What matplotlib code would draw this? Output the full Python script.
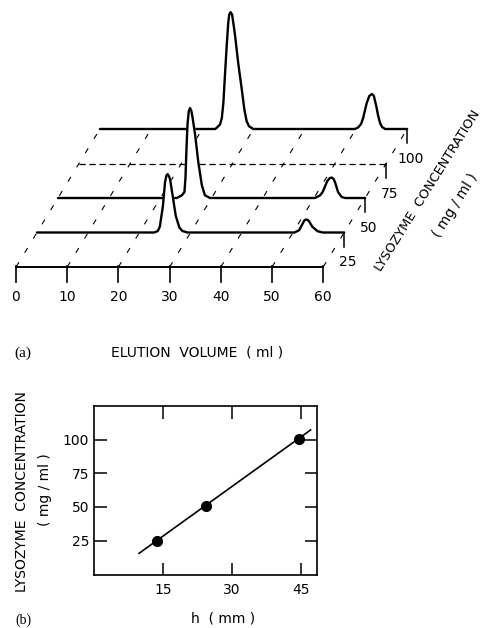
import matplotlib
matplotlib.use("Agg")
import matplotlib.pyplot as plt

# (a) 洗脱曲线，从图上读出的点 (elution volume ml, signal height)
vol_25 = [0, 22.9, 23.6, 24.0, 24.6, 25.0, 25.25, 25.5, 25.8, 26.0, 26.5, 27.1, 27.8,
          28.4, 29.4,
          50.3, 51.2, 51.9, 52.2, 52.5, 52.9, 53.2, 53.8, 54.8, 55.8, 60]
sig_25 = [0, 0, 1.5, 6, 26.7, 50, 56.5, 58.4, 56, 53, 36.7, 16.7, 5,
          1.5, 0,
          0, 2.3, 9, 12, 13, 12.5, 10.6, 5.6, 1.3, 0, 0]

vol_50 = [0, 23.2, 24.2, 24.7, 24.9, 25.1, 25.3, 25.55, 25.8, 26.05, 26.3, 26.8, 27.4,
          28.1, 28.7, 29.7,
          50.2, 51.2, 51.7, 52.1, 52.6, 53.1, 53.5, 53.8, 54.1, 54.7, 55.4, 56.1, 60]
sig_50 = [0, 0, 2.7, 6, 20, 50, 74, 87, 90, 87, 80, 62.7, 36,
          12.7, 2.7, 0,
          0, 2.7, 6, 11, 17, 20, 20.4, 19, 16, 6, 1, 0, 0]

vol_100 = [0, 22.5, 22.8, 23.45, 23.8, 24.1, 24.4, 24.75, 25.05, 25.25, 25.5, 25.8,
           26.05, 26.4, 27.0, 27.7, 28.2, 28.65, 29.1, 29.95,
           49.8, 50.4, 51.0, 51.4, 52.1, 52.6, 53.1, 53.5, 54.0, 54.3, 54.7, 55.1, 55.7, 60]
sig_100 = [0, 0, 1.2, 4.5, 11, 26, 53, 83, 106, 114.5, 116.8, 114.5,
           106, 93, 66, 39.5, 19.5, 7.8, 2.8, 0,
           0, 1.5, 5, 11, 26, 33, 35, 33, 22, 14, 6, 2, 0, 0]

empty_level = 75
vol_ticks = [0, 10, 20, 30, 40, 50, 60]

# (b) 标定曲线
h_mm = [13.6, 24.3, 44.6]
conc_mg = [25, 50.5, 100.5]
fit_h = [9.8, 47.1]
fit_conc = [15.6, 107.2]
h_ticks = [15, 30, 45]
c_ticks = [25, 50, 75, 100]

W, H = 488, 628
DX = 0.164   # 每单位浓度在体积方向的偏移 (ml)
DY = 1.38    # 每单位浓度在竖直方向的偏移
plt.rcParams["font.family"] = "DejaVu Sans"


def fig_xy(x, y):
    return x / W, 1 - y / H


fig = plt.figure(figsize=(W / 100, H / 100), dpi=100)

# ---- (a) 三维瀑布图 ----
ax = fig.add_axes([0, 1 - 300 / H, 1, 300 / H])
ax.set_xlim(-16 / 5.12, (W - 16) / 5.12)
ax.set_ylim(-33, 267)
ax.axis("off")

traces = {25: (vol_25, sig_25), 50: (vol_50, sig_50), 100: (vol_100, sig_100)}

# 斜的虚线
for v in vol_ticks:
    ax.plot([v, v + DX * 100], [0, DY * 100], color="k", lw=0.8,
            dashes=(5, 10), zorder=1)

# 从后往前画，白色填充遮挡后面的线
z = 2
for c in [100, 75, 50, 25]:
    base = DY * c
    if c == empty_level:
        ax.plot([0 + DX * c, 60 + DX * c], [base, base], color="k", lw=0.9,
                dashes=(5, 3), zorder=z)
    else:
        vol, sig = traces[c]
        xs = [v + DX * c for v in vol]
        ys = [s + base for s in sig]
        ax.fill_between(xs, base, ys, color="white", zorder=z)
        ax.plot(xs, ys, color="k", lw=1.7, solid_joinstyle="round",
                solid_capstyle="round", zorder=z + 0.5)
    ax.plot([60 + DX * c] * 2, [base, base - 14], color="k", lw=1.1, zorder=z + 0.5)
    ax.text(60 + DX * c + 0.6, base - 30, str(c), ha="center", va="center",
            fontsize=10, zorder=z + 0.5)
    z += 1

# 前面的坐标轴
ax.plot([0, 60], [0, 0], color="k", lw=1.4, zorder=z)
for v in vol_ticks:
    ax.plot([v, v], [1, -15], color="k", lw=1.2, zorder=z)
    ax.text(v, -30, str(v), ha="center", va="center", fontsize=10)

fig.text(*fig_xy(381, 272), "LYSOZYME  CONCENTRATION", rotation=58,
         rotation_mode="anchor", ha="left", va="baseline", fontsize=9.3)
fig.text(*fig_xy(455, 205), "( mg / ml )", rotation=58, rotation_mode="anchor",
         ha="center", va="center", fontsize=10)
fig.text(*fig_xy(23, 353), "(a)", ha="center", va="center", fontsize=11,
         family="Liberation Serif")
fig.text(*fig_xy(197, 352), "ELUTION  VOLUME  ( ml )", ha="center", va="center",
         fontsize=10)

# ---- (b) 标定曲线 ----
bx = fig.add_axes([94 / W, 1 - 575 / H, 223 / W, 169 / H])
bx.plot(fit_h, fit_conc, color="k", lw=1.2)
bx.plot(h_mm, conc_mg, "o", color="k", ms=7)
bx.set_xlim(0, 48.5)
bx.set_ylim(-0.5, 125)
bx.set_xticks(h_ticks)
bx.set_yticks(c_ticks)
bx.tick_params(direction="in", top=True, right=True, length=9, width=1.1,
               labelsize=10)
bx.tick_params(axis="x", pad=6)
for s in bx.spines.values():
    s.set_linewidth(1.2)

fig.text(*fig_xy(22, 492), "LYSOZYME  CONCENTRATION", rotation=90,
         ha="center", va="center", fontsize=10)
fig.text(*fig_xy(45, 490), "( mg / ml )", rotation=90, ha="center",
         va="center", fontsize=10)
fig.text(*fig_xy(223, 618), "h  ( mm )", ha="center", va="center", fontsize=10)
fig.text(*fig_xy(23, 627), "(b)", ha="center", va="bottom", fontsize=10,
         family="Liberation Serif")

fig.savefig("out.png", dpi=100)
plt.close(fig)
